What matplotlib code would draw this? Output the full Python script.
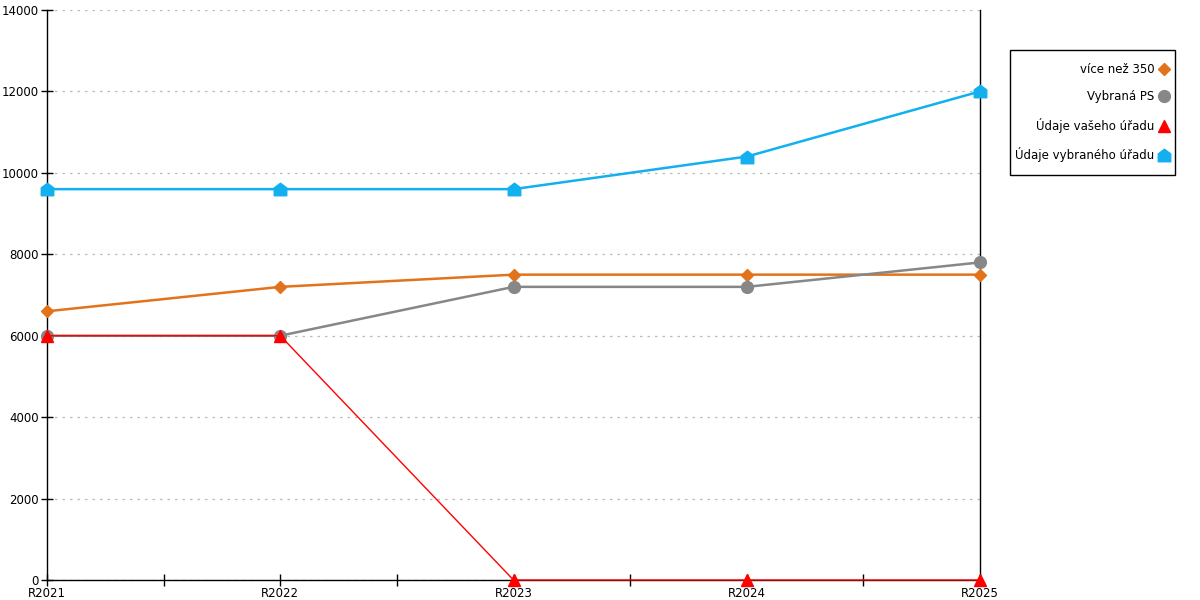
import matplotlib
matplotlib.use("Agg")
import matplotlib.pyplot as plt
from matplotlib.path import Path
from matplotlib.patches import Rectangle
from matplotlib.ticker import MultipleLocator, FixedLocator

categories = ["R2021", "R2022", "R2023", "R2024", "R2025"]
vice_nez_350 = [6600, 7200, 7500, 7500, 7500]
vybrana_ps = [6000, 6000, 7200, 7200, 7800]
udaje_vaseho = [6000, 6000, 0, 0, 0]
udaje_vybraneho = [9600, 9600, 9600, 10400, 12000]

plt.rcParams['font.family'] = ['DejaVu Sans']

fig = plt.figure(figsize=(12, 6), dpi=100)
ax = fig.add_axes([47/1200, 1-580/600, (980-47)/1200, 570/600])

x = list(range(len(categories)))
house = Path([(-1, -1), (1, -1), (1, 0.25), (0, 1), (-1, 0.25), (-1, -1)],
             [Path.MOVETO, Path.LINETO, Path.LINETO, Path.LINETO, Path.LINETO, Path.CLOSEPOLY])

ax.plot(x, vice_nez_350, color="#E2731B", lw=1.8, marker="D", ms=6, label="více než 350", zorder=3, clip_on=False)
ax.plot(x, vybrana_ps, color="#878787", lw=1.8, marker="o", ms=8.5, label="Vybraná PS", zorder=3, clip_on=False)
ax.plot(x, udaje_vaseho, color="#FF0000", lw=1.0, marker="^", ms=9, label="Údaje vašeho úřadu", zorder=4, clip_on=False)
ax.plot(x, udaje_vybraneho, color="#12B0EE", lw=1.8, marker=house, ms=9, label="Údaje vybraného úřadu", zorder=3, clip_on=False)

ax.set_xlim(0, 4)
ax.set_ylim(0, 14000)
ax.yaxis.set_major_locator(MultipleLocator(2000))
ax.set_xticks(x)
ax.set_xticklabels(categories)
ax.xaxis.set_minor_locator(FixedLocator([0.5, 1.5, 2.5, 3.5]))
ax.grid(axis="y", color="#bbbbbb", linestyle=(0, (2, 4)), lw=0.9)
ax.set_axisbelow(True)

ax.spines["top"].set_visible(False)
for s in ["left", "bottom", "right"]:
    ax.spines[s].set_color("black")
    ax.spines[s].set_linewidth(1.0)

ax.tick_params(axis="both", which="both", direction="inout", length=8, width=1, labelsize=8.5, colors="black")
ax.tick_params(axis="y", right=False, pad=2)
ax.tick_params(axis="x", pad=1)

leg = fig.legend(loc="center right", bbox_to_anchor=(1169/1200, 1-112.5/600), markerfirst=False,
                 frameon=False, fontsize=8.5,
                 handlelength=0.8, handletextpad=0.45, labelspacing=1.22, borderpad=0,
                 borderaxespad=0)
for h in leg.get_lines():
    h.set_linestyle("none")

fig.add_artist(Rectangle((1010/1200, 1-175/600), 165/1200, 125/600, transform=fig.transFigure,
                         fill=False, edgecolor="black", lw=1.0))

fig.savefig("out.png", dpi=100)
